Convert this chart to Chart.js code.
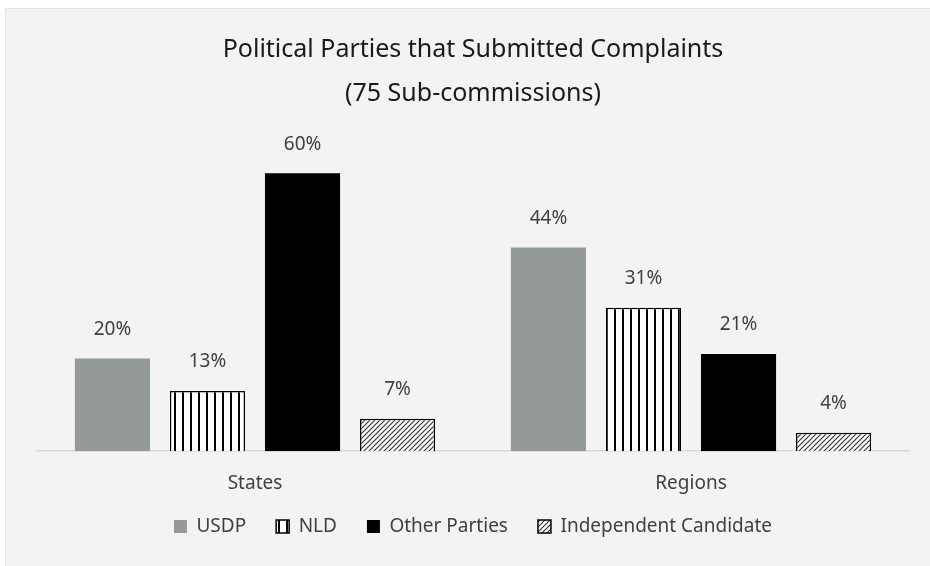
<!DOCTYPE html>
<html>
<head>
<meta charset="utf-8">
<script src="https://cdn.jsdelivr.net/npm/chart.js@4.4.1/dist/chart.umd.min.js"></script>
<style>
  html, body { margin: 0; padding: 0; background: #ffffff; }
  #panel {
    position: absolute; left: 5px; top: 8px; width: 925px; height: 558px;
    background: #f2f3f2; box-sizing: border-box; border-left: 1px solid #e2e3e2; border-top: 1px solid #e2e3e2;
  }
  #chart { display: block; }
</style>
</head>
<body>
<div id="panel"><canvas id="chart" width="924" height="557"></canvas></div>
<script>
// Datos (porcentaje de sub-comisiones)
const categorias = ['States', 'Regions'];
const partidos = ['USDP', 'NLD', 'Other Parties', 'Independent Candidate'];
const valoresUSDP = [20, 44];
const valoresNLD = [13, 31];
const valoresOtros = [60, 21];
const valoresIndependiente = [7, 4];
const tituloLineas = ['Political Parties that Submitted Complaints', '(75 Sub-commissions)'];

const FUENTE = '"Noto Sans", sans-serif';
const RECORTE_EJE = 21; // espacio que se le quita al eje X para acercar la leyenda

/**
 * Patrones de relleno (rayas verticales y diagonales)
 */
function patronRayasVerticales() {
    const c = document.createElement('canvas');
    c.width = 8; c.height = 8;
    const g = c.getContext('2d');
    g.fillStyle = '#ffffff';
    g.fillRect(0, 0, 8, 8);
    g.fillStyle = '#000000';
    g.fillRect(0, 0, 2, 8);
    return g.createPattern(c, 'repeat');
}

function patronDiagonal() {
    const c = document.createElement('canvas');
    c.width = 5; c.height = 5;
    const g = c.getContext('2d');
    g.fillStyle = '#ffffff';
    g.fillRect(0, 0, 5, 5);
    g.strokeStyle = '#303030';
    g.lineWidth = 1.1;
    g.beginPath();
    g.moveTo(-1, 6); g.lineTo(6, -1);
    g.moveTo(-1, 1); g.lineTo(1, -1);
    g.moveTo(4, 6); g.lineTo(6, 4);
    g.stroke();
    return g.createPattern(c, 'repeat');
}

// Etiquetas de porcentaje sobre cada barra
const etiquetasBarras = {
    id: 'etiquetasBarras',
    afterLayout(chart) {
        // devolver al eje su alto real para que no se recorten las etiquetas
        chart.scales.x.bottom += RECORTE_EJE;
    },
    afterDatasetsDraw(chart) {
        const ctx = chart.ctx;
        ctx.save();
        ctx.font = '19px ' + FUENTE;
        ctx.fillStyle = '#404040';
        ctx.textAlign = 'center';
        ctx.textBaseline = 'middle';
        chart.data.datasets.forEach((ds, i) => {
            chart.getDatasetMeta(i).data.forEach((bar, j) => {
                ctx.fillText(ds.data[j] + '%', bar.x, bar.y - 29);
            });
        });
        ctx.restore();
    }
};

const ctxGrafico = document.getElementById('chart');
new Chart(ctxGrafico, {
    type: 'bar',
    data: {
        labels: categorias,
        datasets: [
            { label: partidos[0], data: valoresUSDP, backgroundColor: '#949a9a', borderWidth: 0 },
            { label: partidos[1], data: valoresNLD, backgroundColor: patronRayasVerticales(), borderColor: '#000000', borderWidth: 1.5 },
            { label: partidos[2], data: valoresOtros, backgroundColor: '#000000', borderWidth: 0 },
            { label: partidos[3], data: valoresIndependiente, backgroundColor: patronDiagonal(), borderColor: '#000000', borderWidth: 1.5 }
        ]
    },
    options: {
        responsive: false,
        animation: false,
        categoryPercentage: 0.872,
        barPercentage: 0.79,
        layout: { padding: { left: 31, right: 21, top: 0, bottom: 20 } },
        plugins: {
            title: {
                display: true,
                text: tituloLineas,
                color: '#1a1a1a',
                font: { family: FUENTE, size: 25, weight: 'normal', lineHeight: 1.76 },
                padding: { top: 19, bottom: 11 }
            },
            legend: {
                position: 'bottom',
                labels: {
                    color: '#404040',
                    font: { family: FUENTE, size: 19 },
                    boxWidth: 13,
                    boxHeight: 13,
                    padding: 30
                }
            },
            tooltip: { enabled: false }
        },
        scales: {
            x: {
                grid: { display: false },
                border: { color: '#d9d9d9', width: 1.5 },
                ticks: { color: '#404040', font: { family: FUENTE, size: 19 }, padding: 13 },
                afterFit: (escala) => { escala.height -= RECORTE_EJE; }
            },
            y: {
                display: false,
                min: 0,
                max: 70
            }
        }
    },
    plugins: [etiquetasBarras]
});
</script>
</body>
</html>
